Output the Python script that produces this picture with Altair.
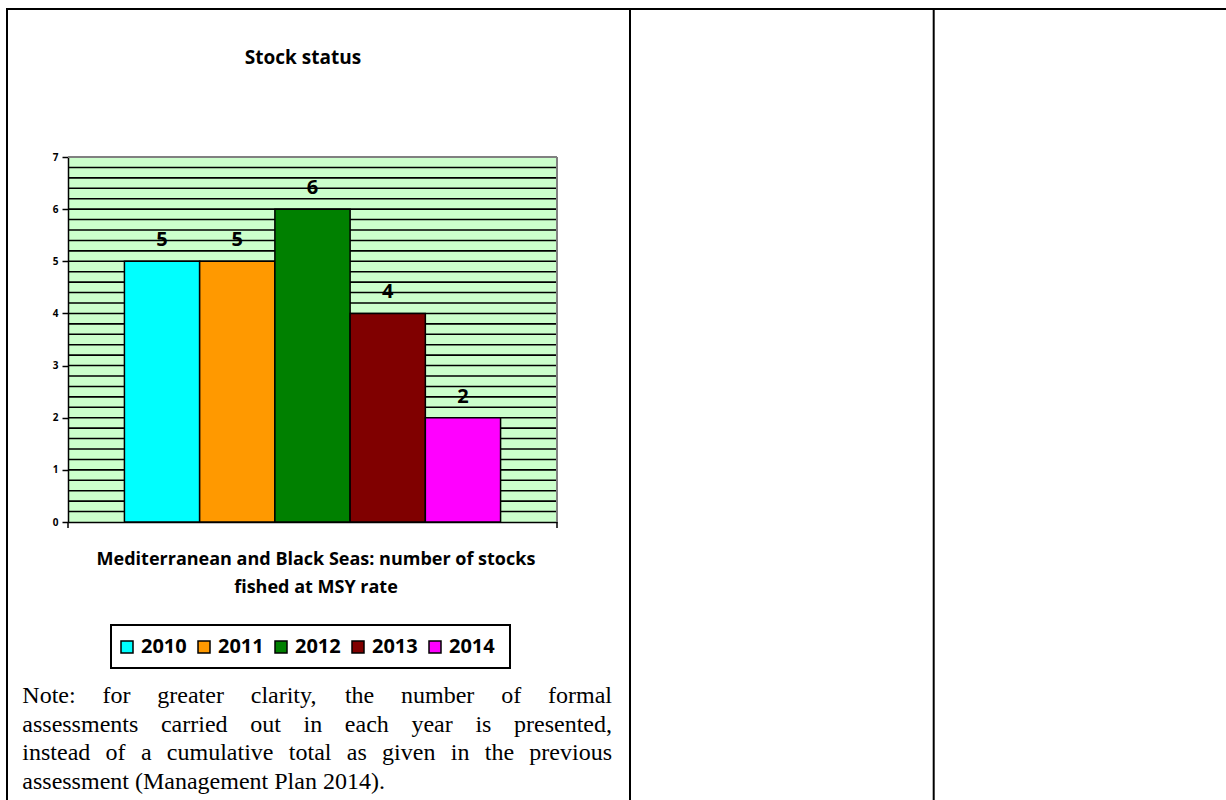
import altair as alt
import pandas as pd

# ---- chart data -------------------------------------------------------------
years = ["2010", "2011", "2012", "2013", "2014"]
stocks = [5, 5, 6, 4, 2]
year_colors = ["#00FFFF", "#FF9900", "#008000", "#800000", "#FF00FF"]
y_ticks = [0, 1, 2, 3, 4, 5, 6, 7]

chart_title = "Stock status"
axis_title_lines = [
    "Mediterranean and Black Seas: number of stocks",
    "fished at MSY rate",
]
note_lines = [
    "Note: for greater clarity, the number of formal",
    "assessments carried out in each year is presented,",
    "instead of a cumulative total as given in the previous",
    "assessment (Management Plan 2014).",
]

# ---- page / plot geometry (page pixels) ------------------------------------
PAGE_W, PAGE_H = 1226, 800
LEFT, TOP, RIGHT, BOTTOM = 68, 157, 557, 522
W, H = RIGHT - LEFT, BOTTOM - TOP

SANS = "Open Sans"
SERIF = "Liberation Serif"

bars_df = pd.DataFrame({"year": years, "stocks": stocks})

# minor horizontal grid every 0.2 units
grid_df = pd.DataFrame({"v": [round(i * 0.2, 1) for i in range(1, 35)]})

y_scale = alt.Scale(domain=[0, 7], nice=False)
y_axis = alt.Axis(values=y_ticks, grid=False, title=None,
                  labelFont=SANS, labelFontWeight="bold", labelFontSize=10,
                  labelColor="black", labelPadding=4,
                  tickColor="black", tickSize=6, tickWidth=1.5,
                  domainColor="black", domainWidth=1.5)
x_scale = alt.Scale(paddingOuter=0.75, paddingInner=0)
x_axis = alt.Axis(labels=False, ticks=False, title=None,
                  domainColor="black", domainWidth=1.5)
one = pd.DataFrame({"k": [0]})

grid = alt.Chart(grid_df).mark_rule(color="black", strokeWidth=1.6).encode(
    y=alt.Y("v:Q", scale=y_scale, axis=y_axis)
)

frame_top = alt.Chart(one).mark_rule(color="#808080", strokeWidth=2).encode(
    y=alt.value(0)
)
frame_right = alt.Chart(one).mark_rule(color="#808080", strokeWidth=2).encode(
    x=alt.value(W)
)

# legend frame drawn as a plain box
legend_box = alt.Chart(one).mark_rect(
    fill="white", stroke="black", strokeWidth=2
).encode(
    x=alt.value(111 - LEFT), x2=alt.value(510 - LEFT),
    y=alt.value(625 - TOP), y2=alt.value(668 - TOP),
)

bars = alt.Chart(bars_df).mark_bar(stroke="black", strokeWidth=1.5).encode(
    x=alt.X("year:N", sort=years, scale=x_scale, axis=x_axis),
    y=alt.Y("stocks:Q", scale=y_scale, axis=y_axis),
    color=alt.Color(
        "year:N",
        scale=alt.Scale(domain=years, range=year_colors),
        legend=alt.Legend(
            orient="none", legendX=117 - LEFT, legendY=637 - TOP,
            direction="horizontal", columns=5, title=None,
            symbolType="square", symbolSize=144,
            symbolStrokeColor="black", symbolStrokeWidth=1.5,
            labelFont=SANS, labelFontWeight="bold", labelFontSize=20,
            labelColor="black", labelOffset=4, columnPadding=7,
            padding=0,
        ),
    ),
)

bar_labels = alt.Chart(bars_df).mark_text(
    baseline="alphabetic", dy=-15, font=SANS, fontWeight="bold",
    fontSize=20, color="black",
).encode(
    x=alt.X("year:N", sort=years, scale=x_scale, axis=x_axis),
    y=alt.Y("stocks:Q", scale=y_scale, axis=y_axis),
    text="stocks:Q",
)

# end ticks of the category axis
end_ticks = [
    alt.Chart(one).mark_rule(color="black", strokeWidth=1.5).encode(
        x=alt.value(px), y=alt.value(H), y2=alt.value(H + 6)
    )
    for px in (0, W)
]

# ---- text blocks -------------------------------------------------------------
title_df = pd.DataFrame({"t": [chart_title], "x": [303 - LEFT], "y": [64 - TOP]})
title = alt.Chart(title_df).mark_text(
    font=SANS, fontWeight="bold", fontSize=19, align="center",
    baseline="alphabetic", color="black",
).encode(x=alt.X("x:Q", scale=None), y=alt.Y("y:Q", scale=None), text="t:N")

axis_title_df = pd.DataFrame({
    "t": axis_title_lines,
    "x": [316 - LEFT] * 2,
    "y": [565 - TOP, 593 - TOP],
})
axis_title = alt.Chart(axis_title_df).mark_text(
    font=SANS, fontWeight="bold", fontSize=18, align="center",
    baseline="alphabetic", color="black",
).encode(x=alt.X("x:Q", scale=None), y=alt.Y("y:Q", scale=None), text="t:N")

# Times/Liberation Serif advance widths (1/1000 em) for justified setting
TIMES = {
    "a": 444, "b": 500, "c": 444, "d": 500, "e": 444, "f": 333, "g": 500,
    "h": 500, "i": 278, "j": 278, "k": 500, "l": 278, "m": 778, "n": 500,
    "o": 500, "p": 500, "q": 500, "r": 333, "s": 389, "t": 278, "u": 500,
    "v": 500, "w": 722, "x": 500, "y": 500, "z": 444,
    "N": 722, "M": 889, "P": 556, " ": 250, ",": 250, ".": 250, ":": 278,
    "(": 333, ")": 333, "0": 500, "1": 500, "2": 500, "3": 500, "4": 500,
}
NOTE_SIZE = 24


def justify(lines, left, right, first_baseline, line_gap, size):
    rows = []
    for li, line in enumerate(lines):
        words = line.split(" ")
        widths = [sum(TIMES.get(c, 500) for c in w) / 1000 * size for w in words]
        y = first_baseline + li * line_gap
        if li < len(lines) - 1 and len(words) > 1:
            gap = (right - left - sum(widths)) / (len(words) - 1)
        else:
            gap = TIMES[" "] / 1000 * size
        x = left
        for w, wd in zip(words, widths):
            rows.append({"word": w, "x": x - LEFT, "y": y - TOP})
            x += wd + gap
    return pd.DataFrame(rows)


note_df = justify(note_lines, 22.3, 612, 703, 28.5, NOTE_SIZE)
note = alt.Chart(note_df).mark_text(
    font=SERIF, fontSize=NOTE_SIZE, align="left", baseline="alphabetic",
    color="black",
).encode(x=alt.X("x:Q", scale=None), y=alt.Y("y:Q", scale=None), text="word:N")

# table rules around the chart cell
borders_df = pd.DataFrame({
    "x": [6 - LEFT, 7 - LEFT, 630 - LEFT, 933.7 - LEFT],
    "x2": [PAGE_W + 10 - LEFT, 7 - LEFT, 630 - LEFT, 933.7 - LEFT],
    "y": [9 - TOP, 8 - TOP, 8 - TOP, 8 - TOP],
    "y2": [9 - TOP, PAGE_H + 10 - TOP, PAGE_H + 10 - TOP, PAGE_H + 10 - TOP],
})
borders = alt.Chart(borders_df).mark_rule(color="black", strokeWidth=2).encode(
    x=alt.X("x:Q", scale=None), x2="x2:Q",
    y=alt.Y("y:Q", scale=None), y2="y2:Q",
)

chart = alt.layer(
    grid, frame_top, frame_right, legend_box, bars, bar_labels, *end_ticks,
    title, axis_title, note, borders,
).properties(
    width=W, height=H,
    autosize=alt.AutoSizeParams(type="none"),
    padding={"left": LEFT, "top": TOP, "right": PAGE_W - RIGHT, "bottom": PAGE_H - BOTTOM},
    background="white",
).configure_view(
    fill="#CCFFCC", stroke=None,
)

chart.save("out.html", embed_options={"renderer": "svg", "actions": False})
